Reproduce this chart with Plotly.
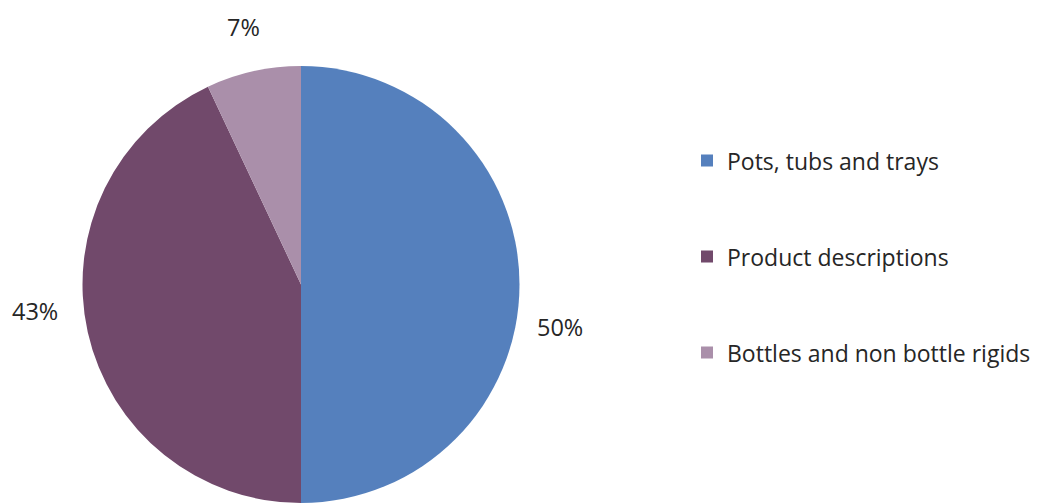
import plotly.graph_objects as go

# Share of items by packaging category
categories = ["Pots, tubs and trays", "Product descriptions", "Bottles and non bottle rigids"]
shares = [50, 43, 7]
colors = ["#5580BD", "#71496B", "#AA8FAA"]

W, H = 1048, 503
TEXT = "#262626"

# Legend rows are spaced out by padding each label with empty lines
legend_labels = [f"<br><span style='font-size:23px'>{c}</span><br>" for c in categories]

fig = go.Figure(
    go.Pie(
        labels=legend_labels,
        values=shares,
        sort=False,
        direction="clockwise",
        rotation=0,
        marker=dict(colors=colors, line=dict(width=0)),
        textinfo="none",
        hoverinfo="skip",
        domain=dict(x=[82 / W, 520 / W], y=[0, (H - 66) / H]),
    )
)

# Percentage labels around the pie
label_pos = [(560, 327), (35, 311), (243, 27)]
for v, (px, py) in zip(shares, label_pos):
    fig.add_annotation(
        x=px / W, y=1 - py / H, xref="paper", yref="paper",
        text=f"{v}%", showarrow=False,
        font=dict(family="Open Sans", size=23.5, color=TEXT),
        xanchor="center", yanchor="middle",
    )

fig.update_layout(
    width=W, height=H,
    margin=dict(l=0, r=0, t=0, b=0),
    paper_bgcolor="white",
    plot_bgcolor="white",
    showlegend=True,
    legend=dict(
        x=687 / W, xanchor="left",
        y=1 - 257 / H, yanchor="middle",
        font=dict(family="Open Sans", size=23.85, color=TEXT),
        bgcolor="rgba(0,0,0,0)",
        borderwidth=0,
    ),
)

fig.write_html("out.html")
